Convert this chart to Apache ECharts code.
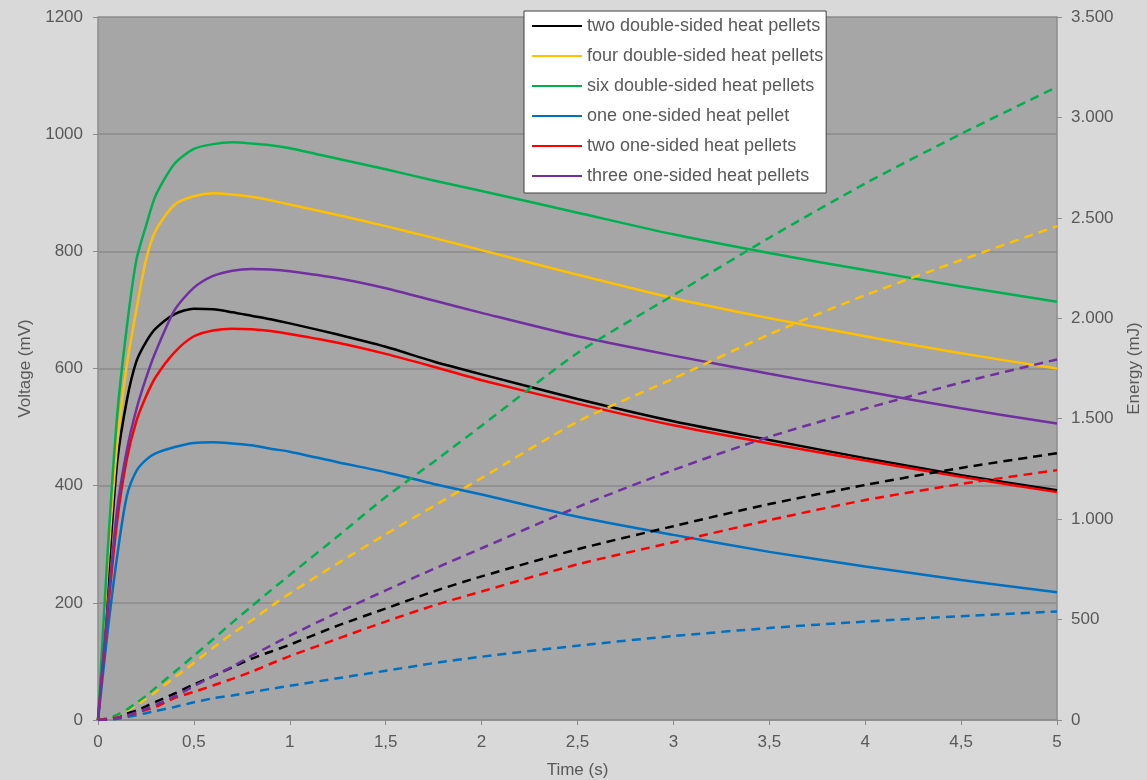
<!DOCTYPE html>
<html>
<head>
<meta charset="utf-8">
<title>Heat pellets – voltage and energy</title>
<script src="https://cdn.jsdelivr.net/npm/echarts@6/dist/echarts.min.js"></script>
<style>
  html, body { margin: 0; padding: 0; background: #d9d9d9; }
  #chart { width: 1147px; height: 780px; }
</style>
</head>
<body>
<div id="chart"></div>
<script>
// Sample times (s)
const time = [0, 0.05, 0.1, 0.15, 0.2, 0.25, 0.3, 0.4, 0.5, 0.6, 0.7, 0.8, 0.9, 1.0,
              1.25, 1.5, 1.75, 2.0, 2.5, 3.0, 3.5, 4.0, 4.5, 5.0];

// Voltage (mV) on the left axis
const vTwoDouble   = [0, 228, 440, 545, 612, 645, 668, 693, 702, 701, 696, 690, 684, 677,
                      658, 637, 612, 590, 548, 510, 478, 447, 418, 392];
const vFourDouble  = [0, 260, 470, 605, 700, 785, 835, 880, 894, 899, 897, 893, 887, 880,
                      862, 843, 823, 802, 760, 720, 686, 655, 626, 600];
const vSixDouble   = [0, 285, 520, 670, 785, 843, 895, 950, 975, 983, 986, 984, 981, 976,
                      958, 940, 921, 903, 866, 829, 797, 768, 740, 714];
const vOneSingle   = [0, 150, 280, 382, 425, 444, 455, 466, 473, 474, 472, 469, 463, 458,
                      440, 423, 403, 385, 347, 316, 287, 262, 239, 218];
const vTwoSingle   = [0, 182, 340, 445, 510, 552, 585, 628, 655, 665, 668, 667, 664, 659,
                      644, 625, 603, 580, 540, 503, 472, 443, 415, 389];
const vThreeSingle = [0, 192, 360, 460, 530, 583, 628, 700, 738, 758, 767, 770, 769, 766,
                      754, 737, 716, 695, 655, 622, 591, 561, 532, 506];

// Energy (mJ) on the right axis
const eTwoDouble   = [0, 8, 18, 32, 47, 68, 90, 132, 177, 218, 262, 305, 340, 375,
                      470, 555, 640, 715, 850, 965, 1075, 1170, 1255, 1328];
const eFourDouble  = [0, 8, 22, 45, 75, 105, 140, 212, 285, 360, 430, 495, 565, 630,
                      780, 925, 1065, 1205, 1485, 1700, 1920, 2115, 2290, 2459];
const eSixDouble   = [0, 8, 25, 52, 85, 120, 160, 240, 320, 402, 485, 565, 645, 722,
                      915, 1110, 1285, 1465, 1827, 2115, 2401, 2671, 2918, 3152];
const eOneSingle   = [0, 2, 6, 14, 24, 34, 45, 65, 88, 108, 122, 138, 155, 170,
                      208, 245, 283, 315, 370, 418, 458, 490, 517, 540];
const eTwoSingle   = [0, 4, 12, 22, 35, 50, 65, 110, 140, 172, 205, 240, 280, 318,
                      405, 490, 570, 640, 775, 885, 995, 1095, 1175, 1244];
const eThreeSingle = [0, 3, 10, 22, 38, 55, 75, 118, 168, 218, 265, 320, 370, 420,
                      535, 645, 752, 855, 1060, 1245, 1410, 1550, 1680, 1795];

const names = [
  'two double-sided heat pellets',
  'four double-sided heat pellets',
  'six double-sided heat pellets',
  'one one-sided heat pellet',
  'two one-sided heat pellets',
  'three one-sided heat pellets'
];
const colors = ['#000000', '#ffc000', '#00b050', '#0070c0', '#ff0000', '#7030a0'];
const voltage = [vTwoDouble, vFourDouble, vSixDouble, vOneSingle, vTwoSingle, vThreeSingle];
const energy  = [eTwoDouble, eFourDouble, eSixDouble, eOneSingle, eTwoSingle, eThreeSingle];

const pairs = vals => time.map((t, i) => [t, vals[i]]);
const textColor = '#595959';
const font = 'Liberation Sans, Arial, sans-serif';

const series = [];
voltage.forEach((vals, k) => {
  series.push({
    name: names[k], type: 'line', yAxisIndex: 0, data: pairs(vals),
    symbol: 'none', smooth: 0.25,
    lineStyle: { color: colors[k], width: 2.5 }, itemStyle: { color: colors[k] },
    emphasis: { disabled: true }, silent: true
  });
});
energy.forEach((vals, k) => {
  series.push({
    name: names[k] + ' (energy)', type: 'line', yAxisIndex: 1, data: pairs(vals),
    symbol: 'none', smooth: 0.25,
    lineStyle: { color: colors[k], width: 2.5, type: [9, 6] }, itemStyle: { color: colors[k] },
    emphasis: { disabled: true }, silent: true
  });
});

const chart = echarts.init(document.getElementById('chart'), null, { renderer: 'canvas' });
chart.setOption({
  backgroundColor: '#d9d9d9',
  animation: false,
  textStyle: { fontFamily: font },
  grid: {
    left: 98, right: 90, top: 17, bottom: 60,
    show: true, backgroundColor: '#a6a6a6', borderWidth: 0,
    containLabel: false, outerBoundsMode: 'none'
  },
  legend: {
    data: names,
    orient: 'vertical',
    left: 524, top: 11,
    backgroundColor: '#ffffff',
    borderColor: '#404040', borderWidth: 1,
    padding: [6, 3, 8, 7],
    itemWidth: 50, itemHeight: 14, itemGap: 12,
    itemStyle: { color: 'transparent', borderColor: 'transparent', borderWidth: 0, opacity: 0 },
    textStyle: { color: textColor, fontSize: 18, fontFamily: font },
    selectedMode: false
  },
  xAxis: {
    type: 'value', min: 0, max: 5, interval: 0.5,
    name: 'Time (s)', nameLocation: 'middle', nameGap: 42,
    nameTextStyle: { color: textColor, fontSize: 17, fontFamily: font },
    axisLine: { show: true, onZero: false, lineStyle: { color: '#8c8c8c', width: 1.5 } },
    axisTick: { show: true, length: 5, lineStyle: { color: '#8c8c8c' } },
    axisLabel: {
      color: textColor, fontSize: 17, margin: 14,
      formatter: v => String(v).replace('.', ',')
    },
    splitLine: { show: false }
  },
  yAxis: [
    {
      type: 'value', min: 0, max: 1200, interval: 200, position: 'left',
      name: 'Voltage (mV)', nameLocation: 'middle', nameGap: 54, nameRotate: 90,
      nameTextStyle: { color: textColor, fontSize: 17, fontFamily: font },
      axisLine: { show: true, lineStyle: { color: '#8c8c8c', width: 1.5 } },
      axisTick: { show: true, length: 5, lineStyle: { color: '#8c8c8c' } },
      axisLabel: { color: textColor, fontSize: 17, margin: 15, formatter: v => String(v) },
      splitLine: { show: true, lineStyle: { color: '#8a8a8a', width: 1.5 } }
    },
    {
      type: 'value', min: 0, max: 3500, interval: 500, position: 'right',
      name: 'Energy (mJ)', nameLocation: 'middle', nameGap: 69, nameRotate: 90,
      nameTextStyle: { color: textColor, fontSize: 17, fontFamily: font },
      axisLine: { show: true, lineStyle: { color: '#8c8c8c', width: 1.5 } },
      axisTick: { show: true, length: 5, lineStyle: { color: '#8c8c8c' } },
      axisLabel: {
        color: textColor, fontSize: 17, margin: 14,
        formatter: v => v >= 1000
          ? Math.floor(v / 1000) + '.' + String(v % 1000).padStart(3, '0')
          : String(v)
      },
      splitLine: { show: false }
    }
  ],
  series: series
});
</script>
</body>
</html>
